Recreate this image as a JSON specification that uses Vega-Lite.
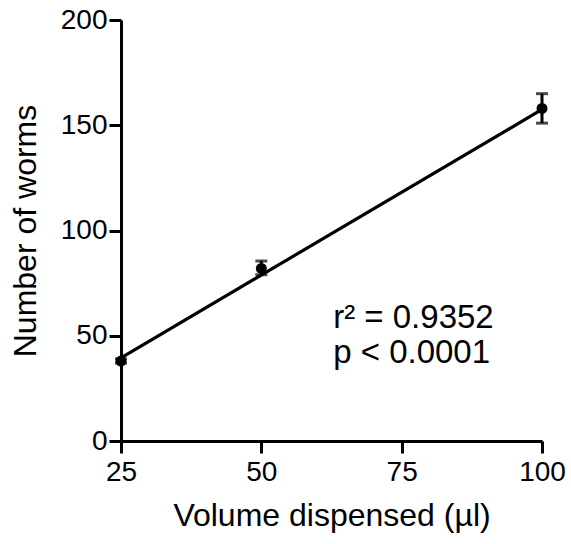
{
  "$schema": "https://vega.github.io/schema/vega-lite/v6.json",
  "width": 421,
  "height": 421,
  "autosize": {"type": "none"},
  "padding": {"left": 121, "top": 20, "right": 29, "bottom": 103},
  "background": "white",
  "config": {
    "view": {"stroke": null},
    "font": "Liberation Sans",
    "axis": {
      "grid": false,
      "domainColor": "black",
      "domainWidth": 3,
      "tickColor": "black",
      "tickWidth": 3,
      "tickSize": 12,
      "labelColor": "black",
      "labelFont": "Liberation Sans",
      "labelFontSize": 28,
      "titleColor": "black",
      "titleFont": "Liberation Sans",
      "titleFontSize": 32,
      "titleFontWeight": "normal"
    }
  },
  "datasets": {
    "points": [
      {"volume": 25, "worms": 38, "lo": 37, "hi": 39},
      {"volume": 50, "worms": 82, "lo": 79, "hi": 85.5},
      {"volume": 100, "worms": 158, "lo": 151, "hi": 165}
    ],
    "fit": [
      {"volume": 25, "worms": 39.5},
      {"volume": 100, "worms": 157.5}
    ],
    "notes": [
      {"volume": 62.8, "worms": 53.5, "label": "r² = 0.9352"},
      {"volume": 62.8, "worms": 37, "label": "p < 0.0001"}
    ]
  },
  "layer": [
    {
      "data": {"name": "fit"},
      "mark": {"type": "line", "color": "black", "strokeWidth": 3.2, "clip": false},
      "encoding": {
        "x": {
          "field": "volume", "type": "quantitative",
          "scale": {"domain": [25, 100], "nice": false, "zero": false},
          "axis": {"values": [25, 50, 75, 100], "title": "Volume dispensed (µl)", "labelPadding": 5, "titlePadding": 14, "labelFlush": false}
        },
        "y": {
          "field": "worms", "type": "quantitative",
          "scale": {"domain": [0, 200], "nice": false},
          "axis": {"values": [0, 50, 100, 150, 200], "title": "Number of worms", "labelPadding": 2, "titlePadding": 18, "labelFlush": false}
        }
      }
    },
    {
      "data": {"name": "points"},
      "mark": {"type": "rule", "color": "black", "strokeWidth": 3, "clip": false},
      "encoding": {
        "x": {"field": "volume", "type": "quantitative"},
        "y": {"field": "lo", "type": "quantitative"},
        "y2": {"field": "hi"}
      }
    },
    {
      "data": {"name": "points"},
      "mark": {"type": "tick", "color": "black", "orient": "horizontal", "size": 12, "thickness": 3, "clip": false},
      "encoding": {
        "x": {"field": "volume", "type": "quantitative"},
        "y": {"field": "lo", "type": "quantitative"}
      }
    },
    {
      "data": {"name": "points"},
      "mark": {"type": "tick", "color": "black", "orient": "horizontal", "size": 12, "thickness": 3, "clip": false},
      "encoding": {
        "x": {"field": "volume", "type": "quantitative"},
        "y": {"field": "hi", "type": "quantitative"}
      }
    },
    {
      "data": {"name": "points"},
      "mark": {"type": "point", "filled": true, "color": "black", "opacity": 1, "size": 120, "clip": false},
      "encoding": {
        "x": {"field": "volume", "type": "quantitative"},
        "y": {"field": "worms", "type": "quantitative"}
      }
    },
    {
      "data": {"name": "notes"},
      "mark": {"type": "text", "align": "left", "baseline": "alphabetic", "fontSize": 33, "color": "black", "font": "Liberation Sans"},
      "encoding": {
        "x": {"field": "volume", "type": "quantitative"},
        "y": {"field": "worms", "type": "quantitative"},
        "text": {"field": "label"}
      }
    }
  ]
}
